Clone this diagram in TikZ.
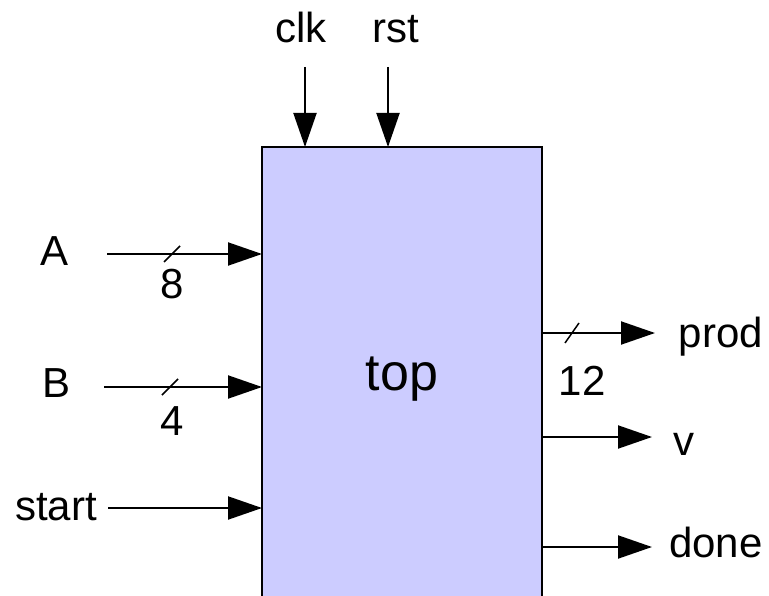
\documentclass[tikz,border=0pt]{standalone}
\usepackage{fontspec}
\setmainfont{Liberation Sans}
\usetikzlibrary{arrows.meta}
\definecolor{boxfill}{RGB}{204,204,255}
\begin{document}
\begin{tikzpicture}[x=1bp,y=-1bp,
  sig/.style={line width=2bp,-{Triangle[length=34bp,width=23bp]}},
  lbl/.style={font=\fontsize{42bp}{50bp}\selectfont, anchor=base, inner sep=0pt},
  biglbl/.style={font=\fontsize{52bp}{62bp}\selectfont, anchor=base, inner sep=0pt},
  bus/.style={line width=1.5bp},
  blk/.style={draw, line width=2bp, fill=boxfill, minimum width=280bp, minimum height=500bp, inner sep=0pt, outer sep=0pt, anchor=north west}]
\useasboundingbox (0,0) rectangle (769,596);
\clip (0,0) rectangle (769,596);
\node[blk] (box) at (262,147) {};
\node[biglbl] (toplbl) at (402,390) {top};
% top inputs
\node[lbl] (clk) at (301,43) {clk};
\node[lbl] (rst) at (396,43) {rst};
\coordinate (clk0) at (305,67);
\coordinate (rst0) at (388,67);
\draw[sig] (clk0) -- (clk0 |- box.north);
\draw[sig] (rst0) -- (rst0 |- box.north);
% left inputs
\node[lbl] (A) at (55,265) {A};
\node[lbl] (B) at (57,397) {B};
\node[lbl] (start) at (56,520) {start};
\coordinate (A0) at (107,254);
\coordinate (B0) at (104,387);
\coordinate (S0) at (108,508);
\draw[sig] (A0) -- (A0 -| box.west);
\draw[sig] (B0) -- (B0 -| box.west);
\draw[sig] (S0) -- (S0 -| box.west);
\coordinate (Am) at (172,254);
\coordinate (Bm) at (170,387);
\draw[bus] ([shift={(-8,8)}]Am) -- ([shift={(8,-8)}]Am);
\draw[bus] ([shift={(-8,8)}]Bm) -- ([shift={(8,-8)}]Bm);
\node[lbl] (w8) at (172,298) {8};
\node[lbl] (w4) at (172,435) {4};
% right outputs
\coordinate (P1) at (655,333);
\coordinate (V1) at (652,437);
\coordinate (D1) at (652,547);
\draw[sig] (P1 -| box.east) -- (P1);
\draw[sig] (V1 -| box.east) -- (V1);
\draw[sig] (D1 -| box.east) -- (D1);
\coordinate (Pm) at (572,333);
\draw[bus] ([shift={(-7,10)}]Pm) -- ([shift={(7,-10)}]Pm);
\node[lbl] (w12) at (582,395) {12};
\node[lbl] (prod) at (721,347) {prod};
\node[lbl] (v) at (684,455) {v};
\node[lbl] (done) at (716,557) {done};
\end{tikzpicture}
\end{document}
